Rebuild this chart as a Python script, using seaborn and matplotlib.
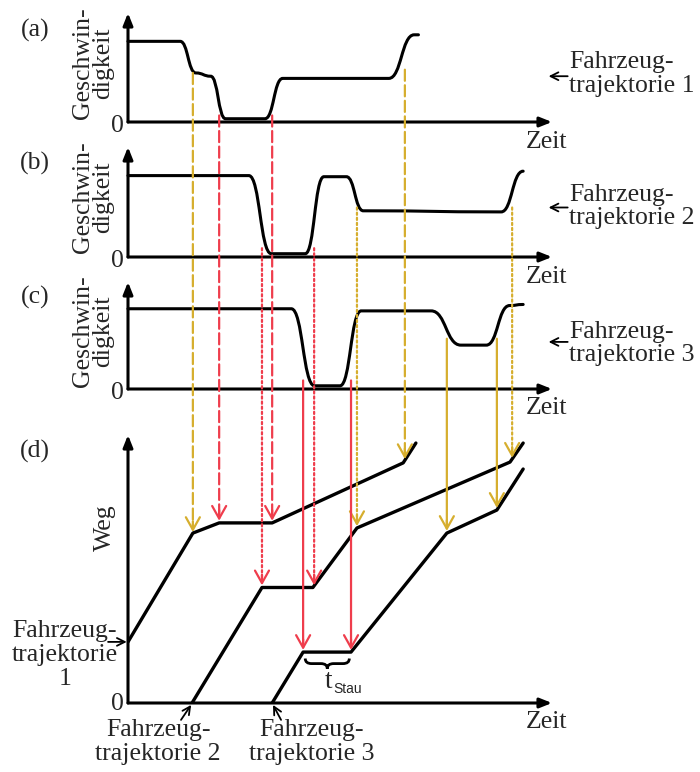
"""
Speed profiles of three vehicles (a-c) and the resulting
time-distance trajectories (d) with a queue (Stau).
"""
import matplotlib
matplotlib.use("Agg")
import matplotlib.pyplot as plt
import pandas as pd
import seaborn as sns
from matplotlib.path import Path
from matplotlib.patches import PathPatch, ConnectionPatch

# ----------------------------------------------------
# Data (time 0..100, speed 0..1, distance 0..100)
# ----------------------------------------------------
speed_a_t = [0, 12.3, 16.0, 19.5, 23.0, 32.3, 36.5, 61.5, 67.5, 68.5]
speed_a_v = [0.74, 0.74, 0.45, 0.42, 0.03, 0.03, 0.40, 0.40, 0.80, 0.80]
speed_b_t = [0, 28.5, 33.8, 41.8, 46.2, 51.5, 55.5, 88.0, 93.2]
speed_b_v = [0.74, 0.74, 0.03, 0.03, 0.73, 0.73, 0.42, 0.41, 0.78]
speed_c_t = [0, 38.5, 44.0, 50.0, 55.0, 71.5, 78.5, 84.5, 90.0, 93.2]
speed_c_v = [0.75, 0.75, 0.03, 0.03, 0.73, 0.73, 0.41, 0.41, 0.78, 0.79]

traj1_t = [0, 15.3, 21.5, 34.0, 64.9, 67.9]
traj1_s = [22.8, 63.4, 67.2, 67.2, 89.6, 97.0]
traj2_t = [15.1, 31.6, 43.6, 54.0, 90.1, 93.2]
traj2_s = [0, 43.1, 43.1, 65.3, 89.9, 97.0]
traj3_t = [34.0, 41.3, 52.6, 75.2, 87.0, 93.2]
traj3_s = [0, 19.0, 19.0, 63.4, 72.0, 87.3]

# connectors: time, source panel, start speed, end distance, colour
conn_t = [15.3, 21.5, 34.0, 65.3, 31.6, 43.9, 54.0, 90.6, 41.3, 52.6, 75.2, 87.0]
conn_panel = ["a", "a", "a", "a", "b", "b", "b", "b", "c", "c", "c", "c"]
conn_start = [0.45, 0.06, 0.06, 0.48, 0.08, 0.08, 0.45, 0.45, 0.08, 0.08, 0.47, 0.47]
conn_end = [63.8, 68.0, 68.0, 91.0, 43.9, 43.9, 66.0, 91.5, 19.8, 19.8, 64.2, 72.8]
conn_kind = ["y", "r", "r", "y", "r", "r", "y", "y", "r", "r", "y", "y"]

stau_start, stau_end = 41.8, 52.2

YELLOW = "#D6AE2E"
RED = "#EF3D4C"
FS = 18.5


def speed_path(ts, vs):
    # flat pieces are straight, level changes are drawn as smooth S-curves
    verts = [(ts[0], vs[0])]
    codes = [Path.MOVETO]
    for i in range(1, len(ts)):
        if vs[i] == vs[i - 1]:
            verts.append((ts[i], vs[i]))
            codes.append(Path.LINETO)
        else:
            mid = (ts[i - 1] + ts[i]) / 2
            verts += [(mid, vs[i - 1]), (mid, vs[i]), (ts[i], vs[i])]
            codes += [Path.CURVE4] * 3
    return Path(verts, codes)


def brace_path(x0, x1, y, h, q=1.5):
    xm = (x0 + x1) / 2
    yb = y - h / 2
    verts = [(x0, y), (x0, yb), (x0 + q, yb), (xm - q, yb), (xm, yb), (xm, y - h),
             (xm, yb), (xm + q, yb), (x1 - q, yb), (x1, yb), (x1, y)]
    codes = [Path.MOVETO, Path.CURVE3, Path.CURVE3, Path.LINETO, Path.CURVE3, Path.CURVE3,
             Path.CURVE3, Path.CURVE3, Path.LINETO, Path.CURVE3, Path.CURVE3]
    return Path(verts, codes)


def axis_arrows(ax, xmax, ymax):
    kw = dict(arrowstyle="-|>,head_length=0.55,head_width=0.22", color="black",
              lw=2.2, mutation_scale=13, shrinkA=0, shrinkB=0)
    ax.annotate("", xy=(xmax, 0), xytext=(0, 0), arrowprops=kw, annotation_clip=False)
    ax.annotate("", xy=(0, ymax), xytext=(0, 0), arrowprops=kw, annotation_clip=False)


def small_arrow(ax, xy, xytext):
    ax.annotate("", xy=xy, xytext=xytext, annotation_clip=False,
                arrowprops=dict(arrowstyle="->", color="black", lw=1.3,
                                mutation_scale=14, shrinkA=0, shrinkB=0))


def main():
    sns.set_theme(style="white")
    plt.rcParams["font.family"] = ["Liberation Serif", "DejaVu Serif"]

    fig = plt.figure(figsize=(7, 7.72), dpi=100)
    left, width = 128 / 700, 424 / 700
    ax_a = fig.add_axes([left, 1 - 122 / 772, width, 109 / 772])
    ax_b = fig.add_axes([left, 1 - 257 / 772, width, 110 / 772])
    ax_c = fig.add_axes([left, 1 - 389 / 772, width, 107 / 772])
    ax_d = fig.add_axes([left, 1 - 703 / 772, width, 268 / 772])
    speed_axes = {"a": ax_a, "b": ax_b, "c": ax_c}

    # ----------------------------------------------------
    # Panels (a)-(c): speed over time
    # ----------------------------------------------------
    profiles = [(speed_a_t, speed_a_v), (speed_b_t, speed_b_v), (speed_c_t, speed_c_v)]
    text_v = [0.44, 0.46, 0.425]
    arrow_v = [0.42, 0.45, 0.44]
    for i, (ax, (ts, vs)) in enumerate(zip([ax_a, ax_b, ax_c], profiles)):
        ax.set_xlim(0, 100)
        ax.set_ylim(0, 1)
        ax.set_axis_off()
        ax.add_patch(PathPatch(speed_path(ts, vs), fill=False, ec="black", lw=2.2,
                               capstyle="round", clip_on=False, zorder=3))
        axis_arrows(ax, 100, 1)
        ax.text(-8.2, 0.54, "Geschwin-\ndigkeit", rotation=90, ha="center", va="center",
                multialignment="center", linespacing=0.92, fontsize=FS)
        ax.text(-1.0, -0.035, "0", ha="right", va="center", fontsize=FS)
        ax.text(98.6, -0.18, "Zeit", ha="center", va="center", fontsize=FS)
        small_arrow(ax, (99.2, arrow_v[i]), (103.7, arrow_v[i]))
        ax.text(104.1, text_v[i], f"Fahrzeug-\ntrajektorie {i + 1}", ha="left",
                va="center", linespacing=1.1, fontsize=FS)

    # ----------------------------------------------------
    # Panel (d): distance over time
    # ----------------------------------------------------
    df = pd.concat([
        pd.DataFrame({"t": traj1_t, "s": traj1_s, "traj": 1}),
        pd.DataFrame({"t": traj2_t, "s": traj2_s, "traj": 2}),
        pd.DataFrame({"t": traj3_t, "s": traj3_s, "traj": 3}),
    ])
    sns.lineplot(data=df, x="t", y="s", units="traj", estimator=None, sort=False,
                 color="black", lw=2.4, solid_joinstyle="round", ax=ax_d, zorder=3)
    ax_d.set_xlim(0, 100)
    ax_d.set_ylim(0, 100)
    ax_d.set_axis_off()
    axis_arrows(ax_d, 100, 100)
    ax_d.text(-5.4, 65.3, "Weg", rotation=90, ha="center", va="center", fontsize=FS)
    ax_d.text(-1.0, -0.5, "0", ha="right", va="center", fontsize=FS)
    ax_d.text(98.6, -7.1, "Zeit", ha="center", va="center", fontsize=FS)

    ax_d.text(-14.9, 17.9, "Fahrzeug-\ntrajektorie\n1", ha="center", va="center",
              multialignment="center", linespacing=1.1, fontsize=FS)
    small_arrow(ax_d, (-0.3, traj1_s[0]), (-4.7, traj1_s[0]))
    ax_d.text(7.1, -14.6, "Fahrzeug-\ntrajektorie 2", ha="center", va="center",
              multialignment="center", linespacing=1.1, fontsize=FS)
    small_arrow(ax_d, (traj2_t[0] - 0.2, -0.7), (12.5, -6.3))
    ax_d.text(43.4, -14.6, "Fahrzeug-\ntrajektorie 3", ha="center", va="center",
              multialignment="center", linespacing=1.1, fontsize=FS)
    small_arrow(ax_d, (traj3_t[0] + 0.2, -0.7), (36.1, -6.3))

    # waiting time in the queue
    ax_d.add_patch(PathPatch(brace_path(stau_start, stau_end, 16.6, 3.8), fill=False,
                             ec="black", lw=2.0, clip_on=False))
    ax_d.text(47.4, 5.6, "t", ha="center", va="baseline", fontsize=FS + 1)
    ax_d.text(48.4, 3.7, "Stau", ha="left", va="baseline", fontsize=10,
              family=["Liberation Sans", "DejaVu Sans"])

    # ----------------------------------------------------
    # Vertical connectors from the speed changes to the trajectories
    # ----------------------------------------------------
    styles = {"a": (0, (5, 2)), "b": (0, (1, 1.3)), "c": "-"}
    for t, p, v0, s1, k in zip(conn_t, conn_panel, conn_start, conn_end, conn_kind):
        col = YELLOW if k == "y" else RED
        line = ConnectionPatch(xyA=(t, v0), coordsA=speed_axes[p].transData,
                               xyB=(t, s1 + 1.5), coordsB=ax_d.transData,
                               color=col, lw=1.6, linestyle=styles[p],
                               arrowstyle="-", zorder=5)
        fig.add_artist(line)
        ax_d.annotate("", xy=(t, s1), xytext=(t, s1 + 4), annotation_clip=False,
                      arrowprops=dict(arrowstyle="->,head_length=0.5,head_width=0.28",
                                      color=col, lw=1.6, mutation_scale=18,
                                      shrinkA=0, shrinkB=0), zorder=5)

    # panel letters
    for label, y in zip(["(a)", "(b)", "(c)", "(d)"], [30, 163, 297, 451]):
        fig.text(35 / 700, 1 - y / 772, label, ha="center", va="center", fontsize=FS)

    fig.savefig("out.png", dpi=100)
    plt.close(fig)


if __name__ == "__main__":
    main()
